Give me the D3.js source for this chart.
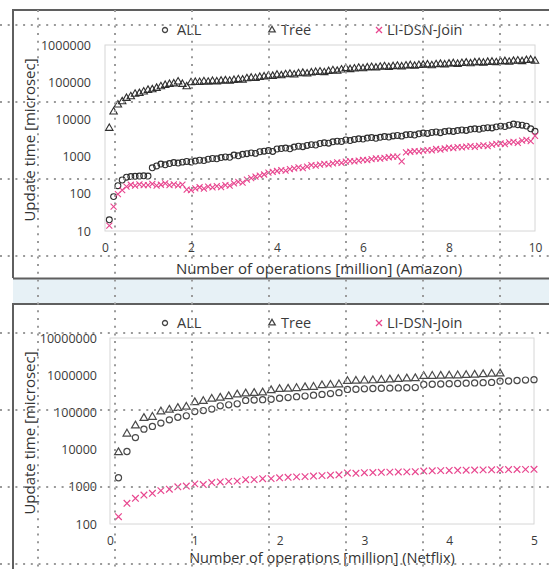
<!DOCTYPE html>
<html>
<head>
<meta charset="utf-8">
<script src="https://cdn.jsdelivr.net/npm/d3@7"></script>
<style>
html, body { margin: 0; padding: 0; background: #fff; }
svg { display: block; font-family: "Open Sans", sans-serif; }
</style>
</head>
<body>
<svg id="chart" width="549" height="569"></svg>
<script>
// ---- Amazon (top) ----
const amazonOps = [0.1,0.2,0.3,0.4,0.5,0.6,0.7,0.8,0.9,1.0,1.1,1.2,1.3,1.4,1.5,1.6,1.7,1.8,1.9,2.0,
  2.1,2.2,2.3,2.4,2.5,2.6,2.7,2.8,2.9,3.0,3.1,3.2,3.3,3.4,3.5,3.6,3.7,3.8,3.9,4.0,
  4.1,4.2,4.3,4.4,4.5,4.6,4.7,4.8,4.9,5.0,5.1,5.2,5.3,5.4,5.5,5.6,5.7,5.8,5.9,6.0,
  6.1,6.2,6.3,6.4,6.5,6.6,6.7,6.8,6.9,7.0,7.1,7.2,7.3,7.4,7.5,7.6,7.7,7.8,7.9,8.0,
  8.1,8.2,8.3,8.4,8.5,8.6,8.7,8.8,8.9,9.0,9.1,9.2,9.3,9.4,9.5,9.6,9.7,9.8,9.9,10.0];
const amazonAll = [20,84,165,235,280,290,295,300,305,300,500,560,630,600,650,690,670,710,740,720,
  760,800,780,850,890,870,940,980,960,1100,1050,1150,1200,1260,1220,1350,1400,1450,1380,1600,
  1650,1700,1620,1800,1900,1850,2000,2100,2050,2250,2350,2300,2500,2600,2550,2800,2700,2900,3000,2950,
  3150,3250,3100,3300,3450,3350,3600,3700,3550,3850,3950,3800,4100,4300,4200,4450,4600,4400,4700,4900,
  4750,5000,5200,5050,5400,5600,5450,5800,6000,5900,6300,6600,6400,7000,7500,7200,7000,6600,5600,4800];
const amazonTree = [5800,16000,24500,30000,37000,41000,48000,50000,55000,61000,63000,69000,76000,83000,88000,91000,102000,88000,76000,98000,
  100000,99000,104000,101000,106000,103000,108000,110000,107000,113000,118000,115000,125000,130000,127000,136000,140000,148000,145000,156000,
  150000,160000,165000,158000,170000,175000,168000,180000,185000,190000,182000,195000,205000,198000,215000,235000,220000,228000,240000,232000,
  245000,250000,242000,255000,262000,250000,265000,272000,260000,275000,282000,270000,285000,290000,295000,280000,298000,305000,295000,310000,
  318000,305000,322000,330000,315000,335000,340000,328000,345000,350000,338000,355000,362000,348000,368000,375000,360000,385000,395000,370000];
const amazonJoin = [14,45,98,126,155,175,165,180,170,172,185,165,175,190,170,180,168,176,130,125,
  140,150,138,155,148,160,152,170,165,190,210,200,240,265,290,310,330,370,390,410,
  430,420,460,480,510,490,540,590,570,610,640,620,660,700,680,730,760,740,780,820,
  800,850,900,880,930,960,1000,1000,740,1300,1350,1400,1380,1450,1500,1480,1600,1550,1650,1750,
  1700,1800,1780,1850,1900,1820,1950,2000,1900,2100,2200,2250,2150,2400,2500,2350,2700,2800,2600,3600];
const amazonXTicks = [0, 2, 4, 6, 8, 10];
const amazonYTicks = [10, 100, 1000, 10000, 100000, 1000000];

// ---- Netflix (bottom) ----
const netflixOps = [0.1,0.2,0.3,0.4,0.5,0.6,0.7,0.8,0.9,1.0,1.1,1.2,1.3,1.4,1.5,1.6,1.7,1.8,1.9,2.0,
  2.1,2.2,2.3,2.4,2.5,2.6,2.7,2.8,2.9,3.0,3.1,3.2,3.3,3.4,3.5,3.6,3.7,3.8,3.9,4.0,
  4.1,4.2,4.3,4.4,4.5,4.6,4.7,4.8,4.9,5.0];
const netflixAll = [1750,8900,21000,35500,42000,51500,63000,74000,81000,105000,112000,123000,150000,160000,170000,210000,215000,220000,225000,240000,
  250000,265000,275000,290000,305000,320000,340000,415000,420000,430000,440000,445000,450000,455000,460000,465000,565000,570000,580000,590000,
  600000,610000,620000,630000,640000,690000,700000,720000,740000,760000];
const netflixTree = [8400,26600,44000,70000,75000,105000,117000,130000,140000,186000,200000,230000,245000,270000,300000,320000,330000,340000,390000,420000,
  430000,445000,470000,480000,530000,545000,560000,690000,700000,710000,720000,740000,760000,780000,810000,820000,940000,950000,960000,970000,
  980000,1000000,1020000,1050000,1080000,1100000];
const netflixJoin = [157,360,490,600,670,790,860,1000,1050,1200,1150,1300,1350,1400,1420,1550,1560,1650,1660,1750,
  1800,1850,1880,1950,2000,2050,2100,2350,2300,2400,2420,2450,2480,2500,2520,2550,2650,2700,2720,2750,
  2780,2800,2820,2850,2870,2880,2900,2920,2940,2950];
const netflixXTicks = [0, 1, 2, 3, 4, 5];
const netflixYTicks = [100, 1000, 10000, 100000, 1000000, 10000000];

const seriesNames = ['ALL', 'Tree', 'LI-DSN-Join'];

const pink = '#e8468f';
const svg = d3.select('#chart');

// panel frames + band between them
svg.append('rect').attr('x', 13).attr('y', 279).attr('width', 536).attr('height', 25).attr('fill', '#e7f1f6');
svg.append('path').attr('d', 'M13,278V10H549').attr('fill', 'none').attr('stroke', '#5f5f5f').attr('stroke-width', 2);
svg.append('path').attr('d', 'M13,278.5H549').attr('stroke', '#5f5f5f').attr('stroke-width', 2);
svg.append('path').attr('d', 'M13,569V304H549').attr('fill', 'none').attr('stroke', '#5f5f5f').attr('stroke-width', 2);

const drawPanel = (cfg)=>{
    const g = svg.append('g');
    const x = d3.scaleLinear().domain(cfg.xDomain).range(cfg.xRange);
    const y = d3.scaleLog().domain(cfg.yDomain).range(cfg.yRange);

    g.append('rect')
        .attr('x', cfg.xRange[0]).attr('y', cfg.yRange[1])
        .attr('width', cfg.xRange[1] - cfg.xRange[0])
        .attr('height', cfg.yRange[0] - cfg.yRange[1])
        .attr('fill', '#fff').attr('stroke', '#d6d6d6');

    const yAxis = d3.axisLeft(y).tickValues(cfg.yTicks).tickFormat(d3.format('d')).tickSize(0).tickPadding(0);
    g.append('g').attr('transform', `translate(${cfg.yLabelX},0)`).call(yAxis)
        .call(a => a.select('.domain').remove())
        .selectAll('text').attr('font-size', 12.5).attr('fill', '#3a3a3a').attr('font-family', '"Open Sans", sans-serif');

    const xAxis = d3.axisBottom(x).tickValues(cfg.xTicks).tickFormat(d3.format('d')).tickSize(0).tickPadding(0);
    g.append('g').attr('transform', `translate(0,${cfg.xLabelY})`).call(xAxis)
        .call(a => a.select('.domain').remove())
        .selectAll('text').attr('font-size', 12).attr('fill', '#3a3a3a').attr('font-family', '"Open Sans", sans-serif');

    g.append('text').attr('x', cfg.xTitle[0]).attr('y', cfg.xTitle[1])
        .attr('text-anchor', 'middle').attr('font-size', cfg.titleSize).attr('fill', '#333')
        .text(cfg.xLabel);
    g.append('text')
        .attr('transform', `translate(${cfg.yTitle[0]},${cfg.yTitle[1]}) rotate(-90)`)
        .attr('text-anchor', 'middle').attr('font-size', 15).attr('fill', '#333')
        .text('Update time [microsec]');

    const circle = d3.symbol().type(d3.symbolCircle).size(cfg.mark * 9)();
    const tri = d3.symbol().type(d3.symbolTriangle).size(cfg.mark * 8)();
    const s = cfg.mark;
    const cross = `M${-s},${-s}L${s},${s}M${-s},${s}L${s},${-s}`;

    const plot = (vals, path, color) => {
        g.append('g').selectAll('path')
            .data(vals.map((v, i) => [cfg.ops[i], v]))
            .enter().append('path')
            .attr('transform', d => `translate(${x(d[0])},${y(d[1])})`)
            .attr('d', path)
            .attr('fill', 'none').attr('stroke', color).attr('stroke-width', cfg.sw);
    };
    plot(cfg.all, circle, cfg.dark);
    plot(cfg.tree, tri, cfg.dark);
    plot(cfg.join, cross, pink);

    // legend
    const lg = g.append('g').attr('transform', `translate(0,${cfg.legendY})`);
    const legendItems = [
        {sx: 165, tx: 177, path: d3.symbol().type(d3.symbolCircle).size(20)(), color: '#444'},
        {sx: 272, tx: 281, path: d3.symbol().type(d3.symbolTriangle).size(18)(), color: '#444'},
        {sx: 379, tx: 387, path: 'M-3,-3L3,3M-3,3L3,-3', color: pink}
    ];
    legendItems.forEach((it, i) => {
        lg.append('path').attr('transform', `translate(${it.sx},0)`).attr('d', it.path)
            .attr('fill', 'none').attr('stroke', it.color).attr('stroke-width', 1.3);
        lg.append('text').attr('x', it.tx).attr('y', 5).attr('font-size', 14.5).attr('fill', '#3a3a3a')
            .text(seriesNames[i]);
    });
};

drawPanel({
    ops: amazonOps, all: amazonAll, tree: amazonTree, join: amazonJoin,
    xDomain: [0, 10], xRange: [105, 535], yDomain: [10, 1000000], yRange: [231, 45],
    xTicks: amazonXTicks, yTicks: amazonYTicks,
    yLabelX: 91, xLabelY: 243, xTitle: [319, 274], yTitle: [35, 140], titleSize: 15,
    xLabel: 'Number of operations [million] (Amazon)', legendY: 30,
    mark: 3, sw: 1.1, dark: '#2f2f2f'
});

drawPanel({
    ops: netflixOps, all: netflixAll, tree: netflixTree, join: netflixJoin,
    xDomain: [0, 5], xRange: [110, 534], yDomain: [100, 10000000], yRange: [524, 338],
    xTicks: netflixXTicks, yTicks: netflixYTicks,
    yLabelX: 97, xLabelY: 536, xTitle: [322, 563], yTitle: [35, 433], titleSize: 14.5,
    xLabel: 'Number of operations [million] (Netflix)', legendY: 323,
    mark: 3.3, sw: 1.2, dark: '#4a4a4a'
});

// dotted layout guides over the whole picture
const guideX = [38, 115, 192, 269, 346, 423, 500];
const guideY = [25, 102, 179, 256, 333, 410, 487, 564];
const guides = svg.append('g').attr('stroke', '#9a9a9a').attr('stroke-width', 2).attr('stroke-dasharray', '2,5.7');
guideX.forEach(gx => guides.append('line').attr('x1', gx).attr('x2', gx).attr('y1', 10).attr('y2', 569));
guideY.forEach(gy => guides.append('line').attr('x1', 0).attr('x2', 549).attr('y1', gy).attr('y2', gy));
</script>
</body>
</html>
